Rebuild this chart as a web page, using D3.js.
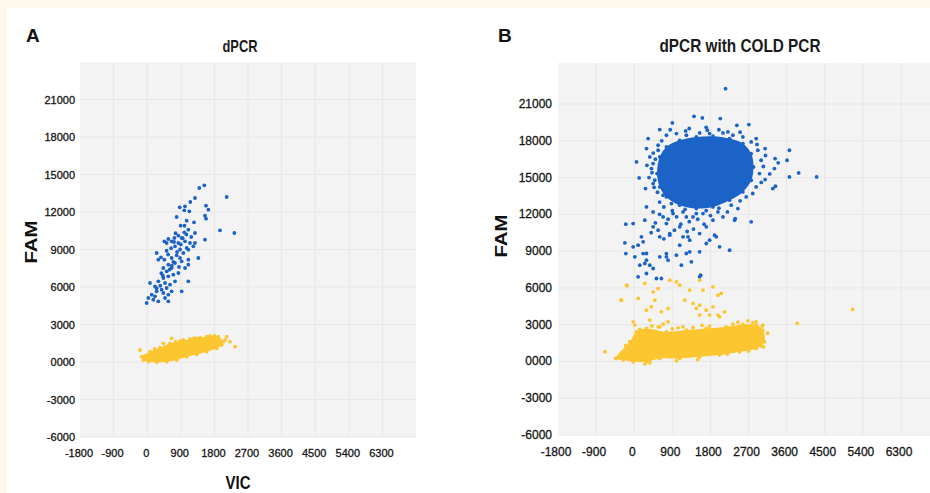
<html>
<head>
<meta charset="utf-8">
<title>dPCR vs dPCR with COLD PCR</title>
<style>
  body { margin: 0; background: #fdf8e9; }
  svg { display: block; }
</style>
</head>
<body>
<svg id="chart" width="930" height="493"></svg>
<script src="https://cdn.jsdelivr.net/npm/d3@7"></script>
<script>

// ---- tick values / labels ----
var xTicks = [-1800, -900, 0, 900, 1800, 2700, 3600, 4500, 5400, 6300];
var yTicks = [21000, 18000, 15000, 12000, 9000, 6000, 3000, 0, -3000, -6000];
var yTickLabels = ["21000", "18000", "15000", "12000", "9000", "6000", "3000", "0000", "-3000", "-6000"];

// ---- panel A (dPCR) : VIC, FAM droplets ----
var blueA = [
  [1530,14133],[1396,13920],[1280,13120],[1155,12800],[2129,13200],[1013,12453],[870,12373],
  [995,12133],[1129,12053],[789,11600],[1575,12506],[1638,12186],[1548,11706],[1575,11466],
  [1057,11306],[1254,11173],[896,10906],[1950,10533],[2334,10320],[1102,10586],[995,10373],
  [1280,10320],[1548,9786],[834,10106],[727,9920],[566,9840],[459,9653],[655,9653],[521,9520],
  [923,9920],[834,9520],[1013,9653],[1146,9520],[745,9253],[1057,9120],[1236,9253],[1280,9520],
  [968,8720],[1102,8986],[1370,8320],[253,8720],[370,8373],[298,8186],[459,8186],[655,8320],
  [789,8533],[879,8320],[745,7920],[566,7786],[432,7519],[521,7253],[655,7519],[923,8053],
  [1102,8186],[1102,7786],[1013,7519],[834,7119],[700,6986],[566,6853],[432,6719],[298,6453],
  [75,6319],[209,6053],[477,6319],[745,6453],[1102,6453],[611,6186],[521,5919],[387,5785],
  [253,5652],[120,5386],[30,5119],[-14,4719],[209,5252],[432,5519],[566,5386],[655,5652],
  [923,5652],[477,5119],[566,4853],[164,4986],[298,4853],
  [600,7400],[700,8000],[800,8800],[560,8600],[880,9000],[950,9900],[1050,10200],[420,6900],
  [350,6100],[250,5900],[660,7700],[720,9600],[1000,10900],[380,7100],[850,7600],[520,8900],
  [640,9100],[760,10300],[1180,10000],[900,9400]
];
// outline of the solid yellow band, read clockwise from its left tip
var yellowACore = [
  [-147,426],[76,826],[344,1146],[612,1493],[880,1680],[1147,1840],[1415,1947],[1683,2080],
  [1906,2027],[2040,1627],[1996,1360],[1862,1093],[1594,827],[1326,613],[1058,426],[790,160],
  [522,26],[254,-27],[31,27],[-103,160]
];
var yellowA = [
  [656,1893],[433,1493],[969,1760],[1326,1893],[1594,2027],[-192,960],[2130,2027],[2219,1627],
  [2353,1227],[2085,1760],[200,1050],[760,1620],[1250,1900],[1800,2090],[1960,1500]
];

// ---- panel B (dPCR with COLD PCR) ----
var blueBCore = [
  [603,16683],[760,17498],[1074,18041],[1467,18313],[1859,18368],[2252,18177],[2566,17770],
  [2762,16955],[2817,15868],[2762,14781],[2566,13830],[2252,13151],[1859,12608],[1467,12472],
  [1074,12743],[760,13422],[603,14238],[540,15325]
];
var blueB = [
  // fringe of the main cluster
  [760,18449],[996,18585],[1231,18449],[1545,18639],[1780,18585],[2095,18639],[2330,18449],
  [2566,18313],[2762,17906],[564,17226],[446,16139],[485,14781],[682,13558],[878,12879],
  [1153,12200],[1388,11792],[1624,12064],[1977,12200],[2291,12743],[2644,13422],[2880,14238],
  [2958,15325],[2997,16411],[2919,17226],
  [450,17000],[500,16500],[420,15400],[470,14200],[550,13800],[650,18000],[850,18900],
  [1300,19000],[1700,19100],[2000,18900],[2500,18700],[2900,17700],[3100,16800],[3050,15900],
  [3000,14600],[2800,13700],[2500,13100],[3200,15300],[3400,16200],[300,16000],[350,15000],
  [600,13000],[700,12600],[900,12300],[1000,11800],[1200,12400],[1300,11400],[1500,11600],
  [1700,12300],[1800,11900],[1100,11200],[800,11600],[600,12000],[950,10700],[1400,10800],
  [1650,11200],[2000,12500],[2200,12200],[500,11300],[400,10500],[700,10000],[1250,10600],
  // scattered around the cluster
  [2157,22253],[1412,19998],[1608,19862],[2032,19808],[901,19454],[2424,19264],[2707,19318],
  [603,18911],[1215,18802],[1726,18857],[2212,18721],[2880,18177],[3091,17362],[3327,16547],
  [3665,17226],[3610,16411],[3884,15379],[4308,15053],[3665,15053],[3311,15732],[3272,14102],
  [3335,14292],[3091,14836],[328,18177],[289,17362],[54,16275],[116,14971],[266,14102],
  [446,14510],[407,15732],[368,16683],[564,17634],[2762,11385],[2448,12472],[2370,11521],
  [2095,11792],[1937,10162],[2252,9076],[1545,6902],
  // tail between the clusters
  [-198,11195],[-25,11249],[-221,9673],[-198,8803],[-25,9347],[171,10162],[211,9754],
  [446,10977],[564,10705],[760,11249],[603,10162],[839,10434],[1074,10977],[1153,10162],
  [1310,9890],[1545,10434],[1702,9619],[1074,9483],[1310,8939],[760,8803],[603,8532],
  [211,8803],[289,8260],[132,7852],[368,7852],[446,7581],[289,7174],[1114,7852],[1349,8124],
  [1545,8939],[800,8260],[996,8668],[1702,10977],[1859,11521],[682,11792],[917,12064],
  [1231,11792],[1467,12064],[446,12200],[289,12608],[93,9484],[14,8533],[289,8805],
  [250,7990],[93,6903],[525,6767],[642,6767],[760,8533],[1231,8805],[1569,7039],[1780,9892],
  [2016,9348],[1898,10299],[839,10299],[1270,10164],[250,11520],[2386,11656]
];
var yellowBCore = [
  [-433,247],[-103,1605],[54,2420],[289,2692],[760,2420],[1231,2556],[1702,2692],[2173,2828],
  [2566,3018],[2880,2964],[3037,2556],[3076,1605],[2880,1062],[2487,790],[2016,518],
  [1545,383],[1074,247],[603,247],[289,-25],[-25,-25],[-261,111]
];
var yellowB = [
  // ragged edge of the band
  [132,2610],[564,2828],[1035,2746],[1388,2774],[1780,2882],[2330,3045],[2684,3317],[2801,3154],
  [3021,2882],[2998,1252],[3052,1198],[250,-216],[996,57],[368,-107],[-339,382],[1500,150],
  [2200,600],[2700,850],[420,2900],[900,2650],[1600,2950],[2450,3200],[3150,2300],[-200,1300],
  // droplets scattered above the band
  [-182,6224],[-300,5001],[93,5137],[250,6360],[446,5680],[564,5952],[485,5001],[289,4186],
  [407,4458],[642,4051],[839,6632],[996,6496],[1074,6224],[1192,5001],[1310,5816],[1545,6632],
  [1624,5816],[1859,6088],[1977,5409],[2055,5545],[1388,4730],[1467,4322],[1545,4594],
  [1702,4186],[1859,4458],[1977,3779],[2134,4051],[2016,3643],[1780,3779],[1545,3779],
  [800,4322],[800,3235],[368,3371],[-25,3235],[14,2963],[603,2827],[682,3045],[1153,2827],
  [-692,790],[2880,3235],[3037,2963],[3847,3103],[5157,4245],[-167,6168],[-316,5002]
];

var BLUE = "#1b63c7";
var YELLOW = "#fcc631";
var FONT = "'Liberation Sans Narrow', 'Liberation Sans', Arial, sans-serif";
var R = 1.9;

var svg = d3.select("#chart");

// white sheet on the cream page
svg.append("rect").attr("x", 7).attr("y", 8).attr("width", 923).attr("height", 485).attr("fill", "#ffffff");

function drawPanel(p) {
  var x = d3.scaleLinear().domain([-1800, 6300]).range(p.xRange);
  var y = d3.scaleLinear().domain([-6000, 21000]).range(p.yRange);
  var g = svg.append("g");

  g.append("rect")
    .attr("x", p.left).attr("y", p.top)
    .attr("width", p.right - p.left).attr("height", p.bottom - p.top)
    .attr("fill", "#f3f3f3");

  g.selectAll(".vgrid").data(xTicks.slice(1)).enter().append("line")
    .attr("x1", function(d){ return x(d); }).attr("x2", function(d){ return x(d); })
    .attr("y1", p.top).attr("y2", p.bottom)
    .attr("stroke", "#e7e7e7").attr("stroke-width", 1);
  g.selectAll(".hgrid").data(yTicks).enter().append("line")
    .attr("x1", p.left).attr("x2", p.right)
    .attr("y1", function(d){ return y(d); }).attr("y2", function(d){ return y(d); })
    .attr("stroke", "#e7e7e7").attr("stroke-width", 1);

  // tick labels
  g.selectAll(".ylab").data(yTicks).enter().append("text")
    .attr("x", p.yLabelX).attr("y", function(d){ return y(d) + 4; })
    .attr("text-anchor", "end")
    .attr("font-family", "'Liberation Sans', Arial, sans-serif")
    .attr("font-size", p.tickSize).attr("fill", "#151515")
    .attr("stroke", "#151515").attr("stroke-width", 0.3)
    .text(function(d, i){ return yTickLabels[i]; });
  g.selectAll(".xlab").data(xTicks).enter().append("text")
    .attr("x", function(d){ return x(d) + p.xLabelShift; }).attr("y", p.xLabelY)
    .attr("text-anchor", "middle")
    .attr("font-family", "'Liberation Sans', Arial, sans-serif")
    .attr("font-size", p.tickSize).attr("fill", "#151515")
    .attr("stroke", "#151515").attr("stroke-width", 0.3)
    .text(function(d){ return d; });

  var line = d3.line()
    .x(function(d){ return x(d[0]); })
    .y(function(d){ return y(d[1]); })
    .curve(d3.curveCatmullRomClosed);

  p.series.forEach(function(s) {
    if (s.core) {
      g.append("path").attr("d", line(s.core)).attr("fill", s.color);
      g.selectAll(null).data(s.core).enter().append("circle")
        .attr("cx", function(d){ return x(d[0]); }).attr("cy", function(d){ return y(d[1]); })
        .attr("r", R).attr("fill", s.color);
    }
    g.selectAll(null).data(s.points).enter().append("circle")
      .attr("cx", function(d){ return x(d[0]); }).attr("cy", function(d){ return y(d[1]); })
      .attr("r", R).attr("fill", s.color);
  });

  // titles
  svg.append("text").attr("x", p.letterX).attr("y", 42)
    .attr("font-family", "'Liberation Sans', Arial, sans-serif").attr("font-weight", "bold")
    .attr("font-size", 19).attr("fill", "#111").text(p.letter);
  svg.append("text").attr("x", p.titleX).attr("y", 52).attr("text-anchor", "middle")
    .attr("font-family", FONT).attr("font-weight", "bold").attr("font-size", p.titleSize)
    .attr("fill", "#1a1a1a")
    .attr("textLength", p.titleLen).attr("lengthAdjust", "spacingAndGlyphs")
    .text(p.title);
  svg.append("text")
    .attr("transform", "translate(" + p.famX + "," + p.famY + ") rotate(-90)")
    .attr("text-anchor", "middle")
    .attr("font-family", FONT).attr("font-weight", "bold").attr("font-size", 17)
    .attr("fill", "#111")
    .attr("textLength", 43).attr("lengthAdjust", "spacingAndGlyphs")
    .text("FAM");
}

drawPanel({
  left: 80, right: 416, top: 62, bottom: 437,
  xRange: [80, 382.4], yRange: [437, 99.5],
  yLabelX: 75, xLabelY: 457, xLabelShift: -1, tickSize: 11,
  letter: "A", letterX: 26, title: "dPCR", titleX: 240, titleSize: 17, titleLen: 35,
  famX: 37, famY: 242,
  series: [
    { color: BLUE, points: blueA },
    { color: YELLOW, core: yellowACore, points: yellowA }
  ]
});

drawPanel({
  left: 558, right: 930, top: 63, bottom: 435,
  xRange: [558, 901], yRange: [435, 104],
  yLabelX: 552, xLabelY: 456, xLabelShift: -2, tickSize: 12,
  letter: "B", letterX: 498, title: "dPCR with COLD PCR", titleX: 740, titleSize: 18, titleLen: 161,
  famX: 507, famY: 236,
  series: [
    { color: BLUE, core: blueBCore, points: blueB },
    { color: YELLOW, core: yellowBCore, points: yellowB }
  ]
});

svg.append("text").attr("x", 238).attr("y", 489).attr("text-anchor", "middle")
  .attr("font-family", FONT).attr("font-weight", "bold").attr("font-size", 19)
  .attr("fill", "#111")
  .attr("textLength", 25).attr("lengthAdjust", "spacingAndGlyphs")
  .text("VIC");

</script>
</body>
</html>
